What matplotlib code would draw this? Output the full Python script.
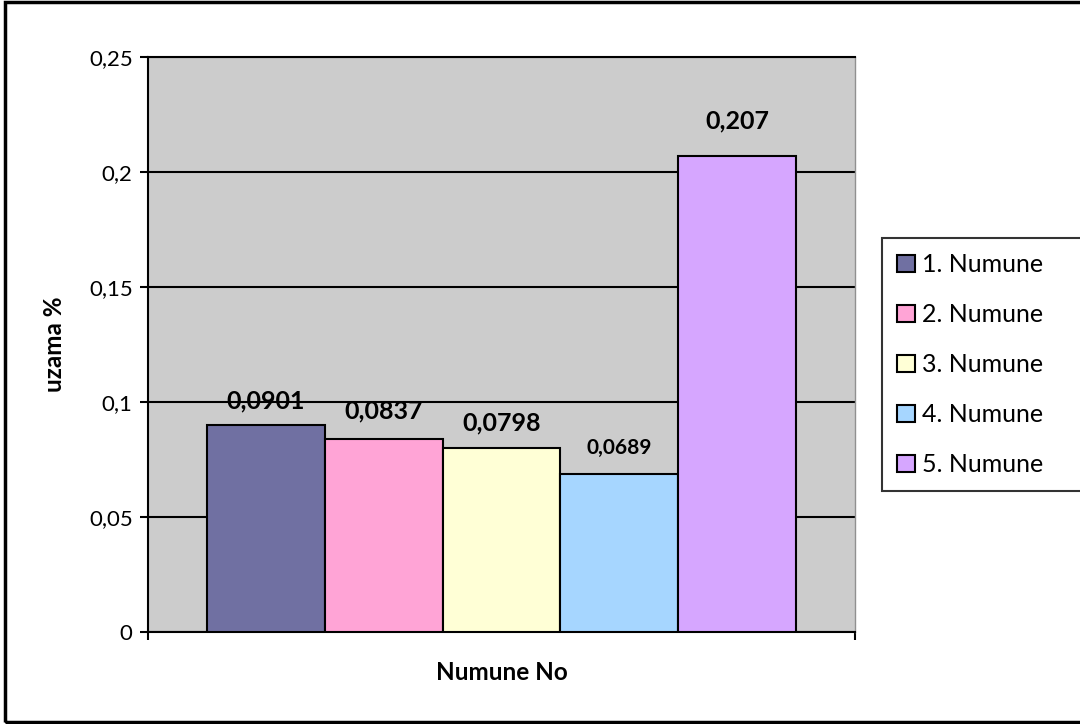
import matplotlib
matplotlib.use("Agg")
import matplotlib.pyplot as plt
from matplotlib.patches import Rectangle
from matplotlib.ticker import FuncFormatter
import numpy as np

plt.rcParams['font.family'] = ['Lato', 'DejaVu Sans']

numuneler = ['1. Numune', '2. Numune', '3. Numune', '4. Numune', '5. Numune']
uzama = [0.0901, 0.0837, 0.0798, 0.0689, 0.207]
renkler = ['#7070A2', '#FFA4D6', '#FFFFD6', '#A6D6FF', '#D6A6FF']
etiket_boyut = [18, 18, 18, 15, 18]
etiket_ofset = [9, 12, 10, 11, 17]

def virgul(v):
    return ('%g' % v).replace('.', ',')

fig = plt.figure(figsize=(10.8, 7.24), dpi=100)
ax = fig.add_axes([148/1080, 1-632/724, (855-148)/1080, (632-57)/724])
ax.set_facecolor('#CCCCCC')

x = np.arange(len(uzama))
for i in range(len(uzama)):
    ax.bar(x[i], uzama[i], width=1.0, color=renkler[i], edgecolor='black',
           linewidth=1.5, label=numuneler[i], zorder=3)
    ax.annotate(virgul(uzama[i]), (x[i], uzama[i]), xytext=(0, etiket_ofset[i]),
                textcoords='offset points', ha='center', va='bottom',
                fontsize=etiket_boyut[i], fontweight='bold', zorder=4)

ax.set_xlim(-1, 5)
ax.set_ylim(0, 0.25)
ax.set_yticks([0, 0.05, 0.1, 0.15, 0.2, 0.25])
ax.yaxis.set_major_formatter(FuncFormatter(lambda v, p: virgul(round(v, 2))))
ax.set_xticks([-1, 5])
ax.set_xticklabels([])
ax.tick_params(axis='both', direction='out', length=6, width=1.5, labelsize=16)
ax.tick_params(axis='y', pad=5)
ax.grid(axis='y', color='black', linewidth=1.5, zorder=1)
ax.set_axisbelow(True)

for s in ['left', 'bottom', 'top']:
    ax.spines[s].set_color('black')
    ax.spines[s].set_linewidth(1.5)
ax.spines['right'].set_color('#909090')
ax.spines['right'].set_linewidth(1)

ax.set_ylabel('uzama %', fontsize=17.5, fontweight='bold', va='center', ha='center')
ax.yaxis.set_label_coords(-93/707, 0.5)
ax.set_xlabel('Numune No', fontsize=17.5, fontweight='bold', va='center', ha='center')
ax.xaxis.set_label_coords(0.5, -40/575)

leg = fig.legend(loc='upper left', bbox_to_anchor=(882/1080, 1-238/724, 0.2, 0),
                 mode='expand', fontsize=18, frameon=True, fancybox=False,
                 edgecolor='black', handlelength=0.7, handleheight=0.7,
                 handletextpad=0.3, labelspacing=1.08, borderpad=0.6,
                 borderaxespad=0)
leg.get_frame().set_linewidth(1.5)

fig.patches.append(Rectangle((5/1080, 2/724), 1.0, 720/724, transform=fig.transFigure,
                             fill=False, edgecolor='black', linewidth=2.5))

fig.savefig('out.png', dpi=100)
